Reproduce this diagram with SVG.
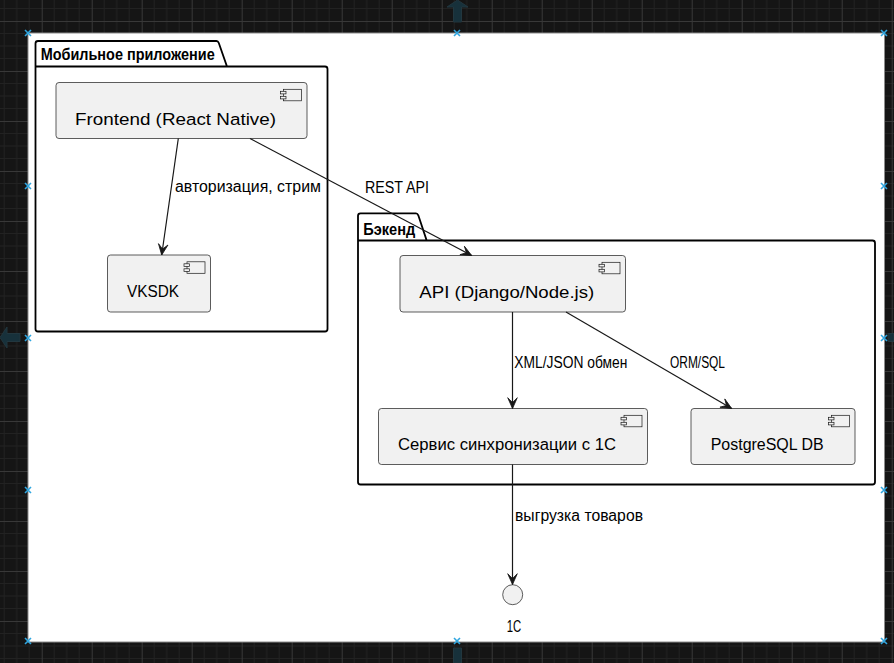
<svg xmlns="http://www.w3.org/2000/svg" xmlns:xlink="http://www.w3.org/1999/xlink" width="894" height="663" viewBox="0 0 894 663">
<style>
text{font-family:"Liberation Sans",Arial,sans-serif;fill:#000;}
.pkg{fill:none;stroke:#000;stroke-width:1.8;}
.pt{font-size:16.8px;font-weight:bold;}
.comp{fill:#F1F1F1;stroke:#181818;stroke-width:0.7;}
.ct{font-size:16.8px;}
.lt{font-size:15.6px;}
.edge{fill:none;stroke:#181818;stroke-width:1.2;}
.h{fill:none;stroke:#2fa6e0;stroke-width:1.6;}
.ga{fill:#17313b;stroke:#22373f;stroke-width:1;}
</style>
<defs>
<pattern id="grid" patternUnits="userSpaceOnUse" x="41.7" y="21" width="50" height="50">
<rect width="50" height="50" fill="#151515"/>
<path d="M12.5,0V50M25,0V50M37.5,0V50M0,12.5H50M0,25H50M0,37.5H50" stroke="#222" stroke-width="1"/>
<path d="M0.5,0V50M0,0.5H50" stroke="#383838" stroke-width="1"/>
</pattern>
<marker id="arr" markerUnits="userSpaceOnUse" markerWidth="14" markerHeight="12" viewBox="-12 -6 14 12" refX="0" refY="0" orient="auto">
<path d="M0,0 L-10.8,-4.8 L-6,0 L-10.8,4.8 Z" fill="#181818" stroke="#181818" stroke-width="0.8"/>
</marker>
<g id="ico">
<rect x="-23.5" y="6.8" width="18" height="11.5" fill="#F1F1F1" stroke="#181818" stroke-width="0.7"/>
<rect x="-26.5" y="8.8" width="5.5" height="2.6" fill="#F1F1F1" stroke="#181818" stroke-width="0.7"/>
<rect x="-26.5" y="13.8" width="5.5" height="2.6" fill="#F1F1F1" stroke="#181818" stroke-width="0.7"/>
</g>
</defs>
<rect x="0" y="0" width="894" height="663" fill="url(#grid)"/>
<g id="editor-arrows">
<path class="ga" d="M453.5,22 V7 H447 L457.5,0 L468,7 H461.5 V22 Z"/>
<path class="ga" d="M20,333.5 H7 V327 L0,337.5 L7,348 V341.5 H20 Z"/>
<path class="ga" d="M453.5,648 V663 H461.5 V648 Z"/>
<path class="ga" d="M888,333.5 H894 V341.5 H888 Z"/>
</g>
<rect x="28" y="33" width="856.5" height="609" fill="#fff" stroke="#8c8c8c" stroke-width="1"/>
<g id="handles">
<path class="h" d="M25,30l6,6m0,-6l-6,6M454,30l6,6m0,-6l-6,6M881,30l6,6m0,-6l-6,6M25,183l6,6m0,-6l-6,6M881,183l6,6m0,-6l-6,6M25,335l6,6m0,-6l-6,6M881,335l6,6m0,-6l-6,6M25,487l6,6m0,-6l-6,6M881,487l6,6m0,-6l-6,6M25,638l6,6m0,-6l-6,6M454,638l6,6m0,-6l-6,6M881,638l6,6m0,-6l-6,6"/>
</g>
<g id="pkg-mobile">
<path class="pkg" d="M35.5,43.5 Q35.5,41 38,41 H216.5 Q218,41 218.8,43 L227,66.5 H325 Q327.5,66.5 327.5,69 V329 Q327.5,331.5 325,331.5 H38 Q35.5,331.5 35.5,329 Z M35.5,66.5 H227"/>
<text class="pt" x="40.7" y="60" textLength="174" lengthAdjust="spacingAndGlyphs">Мобильное приложение</text>
</g>
<g id="pkg-backend">
<path class="pkg" d="M358,215.8 Q358,213.3 360.5,213.3 H416 Q417.5,213.3 418.3,215.3 L426.7,240.5 H872.5 Q875,240.5 875,243 V482 Q875,484.5 872.5,484.5 H360.5 Q358,484.5 358,482 Z M358,240.5 H426.7"/>
<text class="pt" x="363.3" y="235" textLength="52" lengthAdjust="spacingAndGlyphs">Бэкенд</text>
</g>
<g id="frontend">
<rect class="comp" x="56" y="82.5" width="251" height="56" rx="3"/>
<use xlink:href="#ico" x="307" y="82.5"/>
<text class="ct" x="75" y="124.5" textLength="201" lengthAdjust="spacingAndGlyphs">Frontend (React Native)</text>
</g>
<g id="vksdk">
<rect class="comp" x="107.5" y="255" width="103" height="57" rx="3"/>
<use xlink:href="#ico" x="210.5" y="255"/>
<text class="ct" x="127" y="297.3" textLength="52" lengthAdjust="spacingAndGlyphs">VKSDK</text>
</g>
<g id="api">
<rect class="comp" x="400" y="255.5" width="225.5" height="56.5" rx="3"/>
<use xlink:href="#ico" x="625.5" y="255.5"/>
<text class="ct" x="419.3" y="298.3" textLength="175" lengthAdjust="spacingAndGlyphs">API (Django/Node.js)</text>
</g>
<g id="sync">
<rect class="comp" x="378.5" y="408.5" width="269" height="56" rx="3"/>
<use xlink:href="#ico" x="647.5" y="408.5"/>
<text class="ct" x="398" y="449.7" textLength="218" lengthAdjust="spacingAndGlyphs">Сервис синхронизации с 1С</text>
</g>
<g id="postgres">
<rect class="comp" x="691" y="408.5" width="164" height="56" rx="3"/>
<use xlink:href="#ico" x="855" y="408.5"/>
<text class="ct" x="710.7" y="449.7" textLength="113" lengthAdjust="spacingAndGlyphs">PostgreSQL DB</text>
</g>
<g id="iface-1c">
<circle cx="512.7" cy="594.7" r="10" fill="#F1F1F1" stroke="#181818" stroke-width="0.7"/>
<text class="ct" x="506.7" y="631.7" textLength="14.5" lengthAdjust="spacingAndGlyphs">1C</text>
</g>
<g id="connectors">
<path class="edge" d="M178.3,138.5 L161.7,255" marker-end="url(#arr)"/>
<text class="lt" x="175" y="192" textLength="146" lengthAdjust="spacingAndGlyphs">авторизация, стрим</text>
<path class="edge" d="M250,138.5 L471.7,255.5" marker-end="url(#arr)"/>
<text class="lt" x="365" y="192.5" textLength="64" lengthAdjust="spacingAndGlyphs">REST API</text>
<path class="edge" d="M512.5,312 L512.5,408.5" marker-end="url(#arr)"/>
<text class="lt" x="514.3" y="368.3" textLength="113" lengthAdjust="spacingAndGlyphs">XML/JSON обмен</text>
<path class="edge" d="M566,312 L731.7,408.5" marker-end="url(#arr)"/>
<text class="lt" x="670" y="368.3" textLength="55" lengthAdjust="spacingAndGlyphs">ORM/SQL</text>
<path class="edge" d="M512.5,464.5 L512.5,584.5" marker-end="url(#arr)"/>
<text class="lt" x="515" y="520.7" textLength="128" lengthAdjust="spacingAndGlyphs">выгрузка товаров</text>
</g>
</svg>
